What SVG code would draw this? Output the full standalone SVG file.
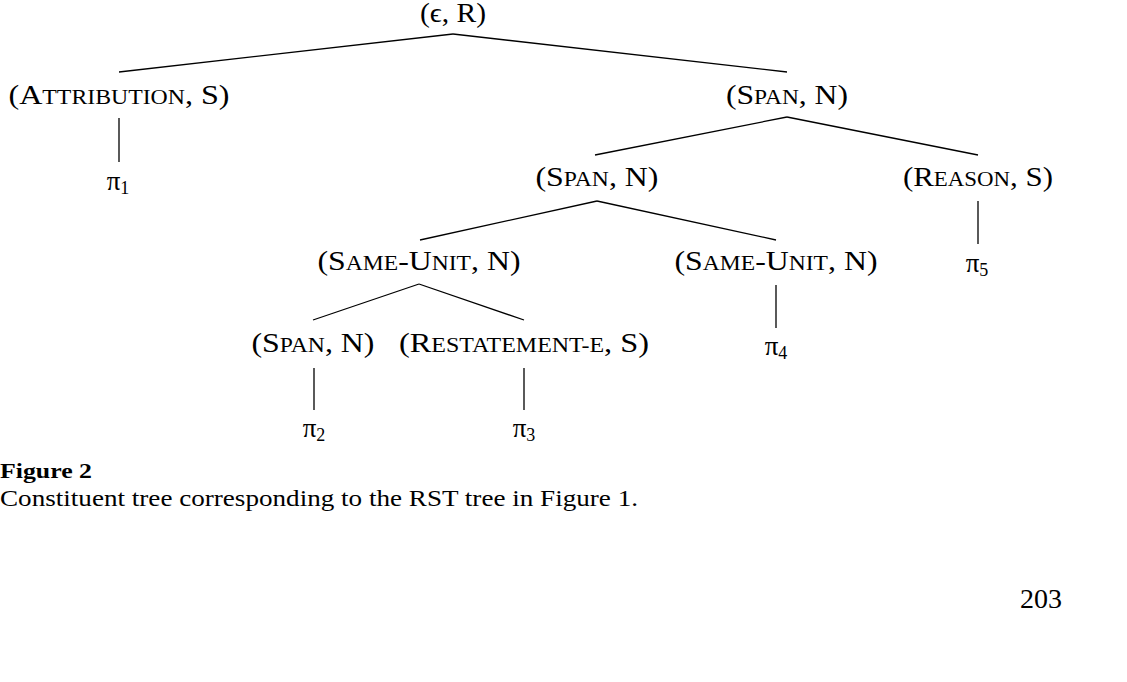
<svg xmlns="http://www.w3.org/2000/svg" width="1127" height="682" viewBox="0 0 1127 682">
<style>
.t{font-family:"Liberation Serif","DejaVu Serif",serif;font-size:27px;fill:#000;text-anchor:middle}
.sc{font-size:20px}
.sub{font-size:18px}
.e{stroke:#000;stroke-width:1.3;fill:none}
.cap{font-family:"Liberation Serif","DejaVu Serif",serif;fill:#000}
</style>
<rect width="1127" height="682" fill="#fff"/>
<g id="connectors">
<line class="e" x1="453" y1="34" x2="119" y2="72"/>
<line class="e" x1="453" y1="34" x2="787" y2="72"/>
<line class="e" x1="119" y1="118" x2="119" y2="162"/>
<line class="e" x1="787" y1="117" x2="595" y2="155"/>
<line class="e" x1="787" y1="117" x2="978" y2="155"/>
<line class="e" x1="978" y1="201" x2="978" y2="244"/>
<line class="e" x1="597" y1="201" x2="420" y2="240"/>
<line class="e" x1="597" y1="201" x2="776" y2="240"/>
<line class="e" x1="776" y1="285" x2="776" y2="328"/>
<line class="e" x1="419" y1="284" x2="313" y2="320"/>
<line class="e" x1="419" y1="284" x2="524" y2="320"/>
<line class="e" x1="314" y1="368" x2="314" y2="410"/>
<line class="e" x1="524" y1="368" x2="524" y2="410"/>
</g>
<g id="root"><text class="t" x="453" y="22" textLength="66" lengthAdjust="spacingAndGlyphs">(ϵ, R)</text></g>
<g id="attribution"><text class="t" x="119" y="104" textLength="221" lengthAdjust="spacingAndGlyphs">(A<tspan class="sc">TTRIBUTION</tspan>, S)</text></g>
<g id="pi1"><text class="t" x="118" y="190">π<tspan class="sub" dy="4">1</tspan></text></g>
<g id="span1"><text class="t" x="787" y="104" textLength="122" lengthAdjust="spacingAndGlyphs">(S<tspan class="sc">PAN</tspan>, N)</text></g>
<g id="span2"><text class="t" x="597" y="186" textLength="123" lengthAdjust="spacingAndGlyphs">(S<tspan class="sc">PAN</tspan>, N)</text></g>
<g id="reason"><text class="t" x="978" y="186" textLength="150" lengthAdjust="spacingAndGlyphs">(R<tspan class="sc">EASON</tspan>, S)</text></g>
<g id="pi5"><text class="t" x="977" y="272">π<tspan class="sub" dy="4">5</tspan></text></g>
<g id="sameunit1"><text class="t" x="419" y="270" textLength="203" lengthAdjust="spacingAndGlyphs">(S<tspan class="sc">AME</tspan>-U<tspan class="sc">NIT</tspan>, N)</text></g>
<g id="sameunit2"><text class="t" x="776" y="270" textLength="203" lengthAdjust="spacingAndGlyphs">(S<tspan class="sc">AME</tspan>-U<tspan class="sc">NIT</tspan>, N)</text></g>
<g id="pi4"><text class="t" x="776" y="355">π<tspan class="sub" dy="4">4</tspan></text></g>
<g id="span3"><text class="t" x="313" y="352" textLength="123" lengthAdjust="spacingAndGlyphs">(S<tspan class="sc">PAN</tspan>, N)</text></g>
<g id="restatement"><text class="t" x="524" y="352" textLength="250" lengthAdjust="spacingAndGlyphs">(R<tspan class="sc">ESTATEMENT-E</tspan>, S)</text></g>
<g id="pi2"><text class="t" x="314" y="437">π<tspan class="sub" dy="4">2</tspan></text></g>
<g id="pi3"><text class="t" x="524" y="437">π<tspan class="sub" dy="4">3</tspan></text></g>
<g id="caption">
<text class="cap" x="0" y="478" font-size="22" font-weight="bold" textLength="92" lengthAdjust="spacingAndGlyphs">Figure 2</text>
<text class="cap" x="0" y="506" font-size="23" textLength="638" lengthAdjust="spacingAndGlyphs">Constituent tree corresponding to the RST tree in Figure 1.</text>
<text class="cap" x="1020" y="608" font-size="27" textLength="42" lengthAdjust="spacingAndGlyphs">203</text>
</g>
</svg>
